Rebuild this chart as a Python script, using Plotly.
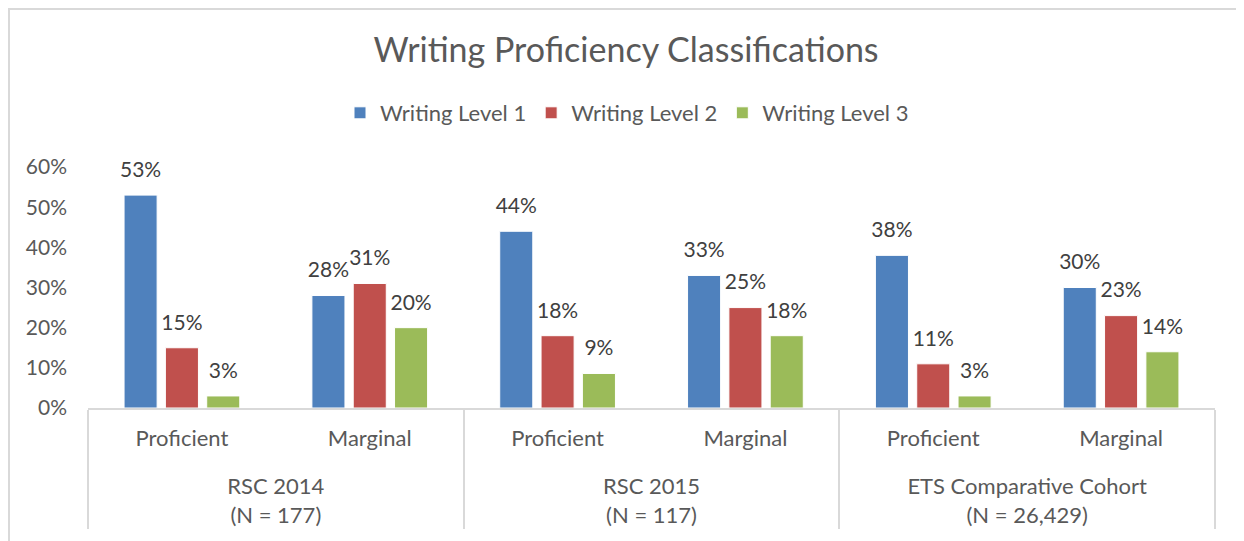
import plotly.graph_objects as go

# ---- data ----
groups = ["<br>RSC 2014<br>(N = 177)", "<br>RSC 2015<br>(N = 117)", "<br>ETS Comparative Cohort<br>(N = 26,429)"]
subcats = ["Proficient", "Marginal"]
series_names = ["Writing Level 1", "Writing Level 2", "Writing Level 3"]
level1 = [53, 28, 44, 33, 38, 30]
level2 = [15, 31, 18, 25, 11, 23]
level3 = [3, 20, 8.6, 18, 3, 14]
label1 = [53, 28, 44, 33, 38, 30]
label2 = [15, 31, 18, 25, 11, 23]
label3 = [3, 20, 9, 18, 3, 14]
y_ticks = [0, 10, 20, 30, 40, 50, 60]
y_ticktext = ["0%", "10%", "20%", "30%", "40%", "50%", "60%"]

colors = ["#4F81BD", "#C0504D", "#9BBB59"]
FONT = "Lato"
TXT = "#595959"

x_outer = [g for g in groups for _ in subcats]
x_inner = [s for _ in groups for s in subcats]

fig = go.Figure()
for i, (name, vals, col) in enumerate(zip(series_names, [level1, level2, level3], colors)):
    fig.add_trace(go.Bar(
        name=name, x=[x_outer, x_inner], y=vals, offsetgroup=str(i),
        marker=dict(color=col, line=dict(color="white", width=1)),
        hoverinfo="skip",
    ))
for i, (vals, labs) in enumerate(zip([level1, level2, level3], [label1, label2, label3])):
    fig.add_trace(go.Scatter(
        x=[x_outer, x_inner], y=vals, offsetgroup=str(i), mode="markers+text",
        text=[f"{v}%" for v in labs], textposition="top center",
        textfont=dict(family=FONT, size=21, color="#404040"),
        marker=dict(size=19, opacity=0), showlegend=False, cliponaxis=False,
        hoverinfo="skip",
    ))

# page body has an 8px margin, so the figure is laid out 8px up/left of the reference
W, H = 1236, 533
L, R, T, B = 80, 29, 159, 133
pw, ph = W - L - R, H - T - B

fig.update_layout(
    width=W, height=H,
    margin=dict(l=L, r=R, t=T, b=B, autoexpand=False),
    paper_bgcolor="white", plot_bgcolor="white",
    barmode="group", bargap=0.34, bargroupgap=0.2,
    scattermode="group", scattergap=0.34,
    font=dict(family=FONT, color=TXT),
    title=dict(text="Writing Proficiency Classifications", x=618 / W, xref="container",
               y=1 - 42 / H, yref="container", yanchor="middle", xanchor="center",
               font=dict(family=FONT, size=34, color=TXT)),
    legend=dict(orientation="h", x=619 / W, xanchor="center", xref="container",
                y=1 - 105 / H, yref="container", yanchor="middle",
                font=dict(family=FONT, size=22, color=TXT), traceorder="normal"),
    showlegend=True,
    xaxis=dict(type="multicategory", showline=True, linecolor="#D9D9D9", linewidth=2,
               showdividers=True, dividercolor="#D9D9D9", dividerwidth=2,
               tickfont=dict(family=FONT, size=22, color=TXT), ticks="",
               ticklabelstandoff=10, automargin=False),
    yaxis=dict(range=[0, 60], tickvals=y_ticks, ticktext=y_ticktext, showgrid=False,
               zeroline=False, showline=False, ticks="", automargin=False,
               ticklabelstandoff=20,
               tickfont=dict(family=FONT, size=21, color=TXT)),
    shapes=[dict(type="rect", xref="paper", yref="paper",
                 x0=(1 - L) / pw, x1=(W + 20 - L) / pw,
                 y0=-(H + 20 - T - ph) / ph, y1=1 + (T - 1) / ph,
                 line=dict(color="#D9D9D9", width=2), layer="below")],
)

fig.write_html("out.html")
